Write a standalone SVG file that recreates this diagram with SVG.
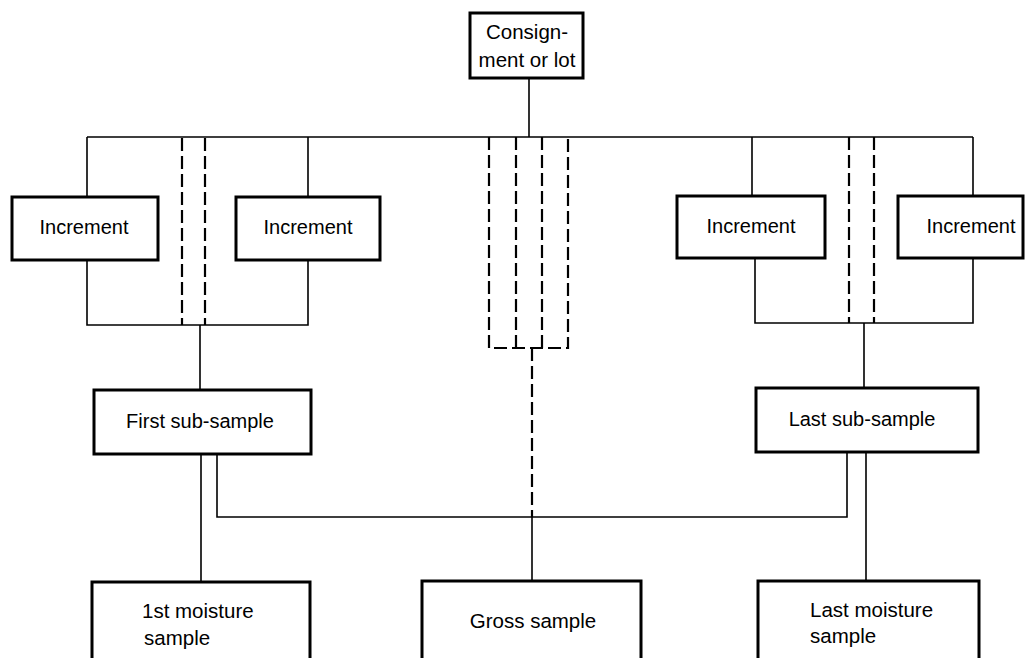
<svg xmlns="http://www.w3.org/2000/svg" width="1035" height="658" viewBox="0 0 1035 658">
<style>
.box{fill:#fff;stroke:#000;stroke-width:3}
.ln{fill:none;stroke:#000;stroke-width:1.6}
.ds{fill:none;stroke:#000;stroke-width:2.2;stroke-dasharray:13 5}
text{font-family:"Liberation Sans",Arial,sans-serif;font-size:20px;fill:#000}
.c{text-anchor:middle}
.m{font-size:20.5px}
</style>
<rect width="1035" height="658" fill="#fff"/>
<g id="connectors">
<path class="ln" d="M529 78V137M87 137H973"/>
<path class="ln" d="M87 137V197M87 260V325H308V260M308 137V197M200 325V390"/>
<path class="ds" d="M182 138V325M205 138V325"/>
<path class="ln" d="M752 137V196M755 258V323H973V258M973 137V196M864 323V388"/>
<path class="ds" d="M849 137V323M874 137V323"/>
<path class="ds" d="M489 137V348H568V137M516 137V348M542 137V348M532 348V517"/>
<path class="ln" d="M532 517V581"/>
<path class="ln" d="M201 454V582M217 454V517H847V452M866 452V581"/>
</g>
<g id="consignment"><rect class="box" x="470" y="13" width="113" height="65"/><text class="c" x="527" y="39" style="font-size:20.5px">Consign-</text><text class="c" x="527" y="67" style="font-size:20.5px">ment or lot</text></g>
<g id="inc1"><rect class="box" x="12" y="197" width="146" height="63"/><text class="c" x="84" y="234">Increment</text></g>
<g id="inc2"><rect class="box" x="236" y="197" width="144" height="63"/><text class="c" x="308" y="234">Increment</text></g>
<g id="inc3"><rect class="box" x="677" y="196" width="148" height="62"/><text class="c" x="751" y="233">Increment</text></g>
<g id="inc4"><rect class="box" x="898" y="196" width="125" height="62"/><text class="c" x="971" y="233">Increment</text></g>
<g id="first-sub"><rect class="box" x="94" y="390" width="217" height="64"/><text class="c" x="200" y="428">First sub-sample</text></g>
<g id="last-sub"><rect class="box" x="756" y="388" width="222" height="64"/><text class="c" x="862" y="426">Last sub-sample</text></g>
<g id="moist1"><rect class="box" x="92" y="582" width="218" height="90"/><text class="m" x="142" y="618">1st moisture</text><text class="m" x="144" y="645">sample</text></g>
<g id="gross"><rect class="box" x="422" y="581" width="219" height="90"/><text class="c m" x="533" y="628">Gross sample</text></g>
<g id="moistlast"><rect class="box" x="758" y="581" width="221" height="90"/><text class="m" x="810" y="617">Last moisture</text><text class="m" x="810" y="643">sample</text></g>
</svg>
